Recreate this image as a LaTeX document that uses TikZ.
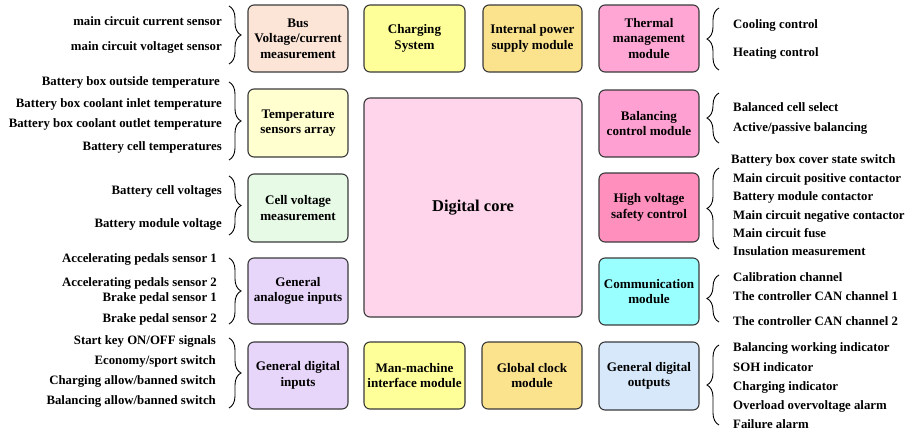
\documentclass[tikz,border=0pt]{standalone}
\usepackage{fontspec}
\setmainfont{Liberation Serif}
\usetikzlibrary{decorations.pathreplacing}
\definecolor{cBus}{HTML}{FCE4D6}
\definecolor{cTemp}{HTML}{FFFFD0}
\definecolor{cCell}{HTML}{E6FAE6}
\definecolor{cAna}{HTML}{E8D5FA}
\definecolor{cChg}{HTML}{FFFF99}
\definecolor{cPow}{HTML}{FBE28D}
\definecolor{cCore}{HTML}{FFD5EC}
\definecolor{cTherm}{HTML}{FFA6D5}
\definecolor{cBal}{HTML}{FFA0D2}
\definecolor{cHv}{HTML}{FF90BE}
\definecolor{cCom}{HTML}{99FFFF}
\definecolor{cOut}{HTML}{D6E8FA}
\definecolor{cEdge}{HTML}{3A3A3A}
\tikzset{
  modbox/.style={draw=cEdge, line width=1.1pt, rounded corners=6pt, align=center,
    inner sep=0pt, font=\fontsize{13.1}{15.5}\selectfont\bfseries},
  lbl/.style={inner sep=0pt, yshift=-1.5pt, font=\fontsize{12.8}{15}\selectfont\bfseries},
  lbrace/.style={decorate, decoration={brace, amplitude=12pt}, line width=0.9pt},
}
\begin{document}
\begin{tikzpicture}[x=1pt,y=-1pt]
\useasboundingbox (0,0) rectangle (909,434);
% left column
\node[modbox, fill=cBus,  minimum width=100pt, minimum height=67pt] (bus)  at (298,38.5) {Bus\\Voltage/current\\measurement};
\node[modbox, fill=cTemp, minimum width=100pt, minimum height=68pt] (temp) at (298,123) {Temperature\\sensors array};
\node[modbox, fill=cCell, minimum width=100pt, minimum height=68pt] (cellv) at (298,208) {Cell voltage\\measurement};
\node[modbox, fill=cAna,  minimum width=100pt, minimum height=66pt] (ana)  at (298,291) {General\\analogue inputs};
\node[modbox, fill=cAna,  minimum width=100pt, minimum height=67pt] (din)  at (298,375.5) {General digital\\inputs};
% middle
\node[modbox, fill=cChg,  minimum width=101pt, minimum height=67pt] (chg)  at (414.5,38.5) {Charging\\System};
\node[modbox, fill=cPow,  minimum width=99pt,  minimum height=67pt] (pow)  at (532.5,38.5) {Internal power\\supply module};
\node[modbox, fill=cCore, minimum width=218pt, minimum height=219pt, font=\fontsize{16.5}{19}\selectfont\bfseries] (core) at (473,207.5) {Digital core};
\node[modbox, fill=cChg,  minimum width=101pt, minimum height=67pt] (hmi)  at (414.5,375.5) {Man-machine\\interface module};
\node[modbox, fill=cPow,  minimum width=100pt, minimum height=67pt] (clk)  at (532,375.5) {Global clock\\module};
% right column
\node[modbox, fill=cTherm, minimum width=100pt, minimum height=67pt] (therm) at (649,38.5) {Thermal\\management\\module};
\node[modbox, fill=cBal,   minimum width=100pt, minimum height=67pt] (bal)   at (649,123.5) {Balancing\\control module};
\node[modbox, fill=cHv,    minimum width=100pt, minimum height=69pt] (hv)    at (649,207.5) {High voltage\\safety control};
\node[modbox, fill=cCom,   minimum width=100pt, minimum height=67pt] (com)   at (649,291.5) {Communication\\module};
\node[modbox, fill=cOut,   minimum width=100pt, minimum height=68pt] (dout)  at (649,376) {General digital\\outputs};
% left labels
\node[lbl, anchor=mid east] (l1)  at (222,22)  {main circuit current sensor};
\node[lbl, anchor=mid east] (l2)  at (222,47)  {main circuit voltaget sensor};
\node[lbl, anchor=mid east] (l3)  at (220,82)  {Battery box outside temperature};
\node[lbl, anchor=mid east] (l4)  at (222,104) {Battery box coolant inlet temperature};
\node[lbl, anchor=mid east] (l5)  at (222,124) {Battery box coolant outlet temperature};
\node[lbl, anchor=mid east] (l6)  at (222,147) {Battery cell temperatures};
\node[lbl, anchor=mid east] (l7)  at (222,191) {Battery cell voltages};
\node[lbl, anchor=mid east] (l8)  at (222,224) {Battery module voltage};
\node[lbl, anchor=mid east] (l9)  at (217,259) {Accelerating pedals sensor 1};
\node[lbl, anchor=mid east] (l10) at (217,283) {Accelerating pedals sensor 2};
\node[lbl, anchor=mid east] (l11) at (217,298) {Brake pedal sensor 1};
\node[lbl, anchor=mid east] (l12) at (217,319) {Brake pedal sensor 2};
\node[lbl, anchor=mid east] (l13) at (216,341) {Start key ON/OFF signals};
\node[lbl, anchor=mid east] (l14) at (216,361) {Economy/sport switch};
\node[lbl, anchor=mid east] (l15) at (216,381) {Charging allow/banned switch};
\node[lbl, anchor=mid east] (l16) at (216,401) {Balancing allow/banned switch};
% right labels
\node[lbl, anchor=mid west] (r1)  at (733,25)  {Cooling control};
\node[lbl, anchor=mid west] (r2)  at (733,53)  {Heating control};
\node[lbl, anchor=mid west] (r3)  at (733,108) {Balanced cell select};
\node[lbl, anchor=mid west] (r4)  at (733,128) {Active/passive balancing};
\node[lbl, anchor=mid west] (r5)  at (731,160) {Battery box cover state switch};
\node[lbl, anchor=mid west] (r6)  at (733,179) {Main circuit positive contactor};
\node[lbl, anchor=mid west] (r7)  at (733,197) {Battery module contactor};
\node[lbl, anchor=mid west] (r8)  at (733,216) {Main circuit negative contactor};
\node[lbl, anchor=mid west] (r9)  at (733,234) {Main circuit fuse};
\node[lbl, anchor=mid west] (r10) at (733,252) {Insulation measurement};
\node[lbl, anchor=mid west] (r11) at (733,278) {Calibration channel};
\node[lbl, anchor=mid west] (r12) at (733,297) {The controller CAN channel 1};
\node[lbl, anchor=mid west] (r13) at (733,322) {The controller CAN channel 2};
\node[lbl, anchor=mid west] (r14) at (733,348) {Balancing working indicator};
\node[lbl, anchor=mid west] (r15) at (733,368) {SOH indicator};
\node[lbl, anchor=mid west] (r16) at (733,387) {Charging indicator};
\node[lbl, anchor=mid west] (r17) at (733,406) {Overload overvoltage alarm};
\node[lbl, anchor=mid west] (r18) at (733,425) {Failure alarm};
% brace end points
\coordinate (bA1) at (229,6);   \coordinate (bA2) at (229,64);
\coordinate (bB1) at (229,82);  \coordinate (bB2) at (229,160);
\coordinate (bC1) at (229,176); \coordinate (bC2) at (229,235);
\coordinate (bD1) at (229,258); \coordinate (bD2) at (229,324);
\coordinate (bE1) at (229,338); \coordinate (bE2) at (229,408);
\coordinate (cA1) at (719,8);   \coordinate (cA2) at (719,70);
\coordinate (cB1) at (719,93);  \coordinate (cB2) at (719,143);
\coordinate (cC1) at (719,168); \coordinate (cC2) at (719,249);
\coordinate (cD1) at (719,275); \coordinate (cD2) at (719,322);
\coordinate (cE1) at (719,345); \coordinate (cE2) at (719,425);
% left braces (tip to the right)
\draw[lbrace] (bA1) -- (bA2);
\draw[lbrace] (bB1) -- (bB2);
\draw[lbrace] (bC1) -- (bC2);
\draw[lbrace] (bD1) -- (bD2);
\draw[lbrace] (bE1) -- (bE2);
% right braces (tip to the left)
\draw[lbrace] (cA2) -- (cA1);
\draw[lbrace] (cB2) -- (cB1);
\draw[lbrace] (cC2) -- (cC1);
\draw[lbrace] (cD2) -- (cD1);
\draw[lbrace] (cE2) -- (cE1);
\end{tikzpicture}
\end{document}
